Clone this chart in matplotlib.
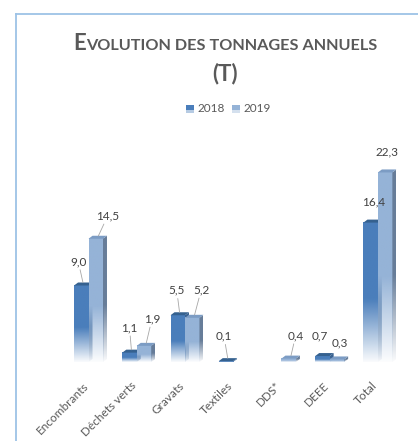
import numpy as np
import matplotlib
matplotlib.use("Agg")
import matplotlib.pyplot as plt
from matplotlib.colors import to_rgb
from matplotlib.patches import Polygon, Rectangle
from matplotlib.lines import Line2D
from matplotlib.transforms import ScaledTranslation

# ---- data -------------------------------------------------------------
categories = ["Encombrants", "Déchets verts", "Gravats", "Textiles", "DDS*", "DEEE", "Total"]
series_names = ["2018", "2019"]
values_2018 = [9.0, 1.1, 5.5, 0.1, np.nan, 0.7, 16.4]
values_2019 = [14.5, 1.9, 5.2, np.nan, 0.4, 0.3, 22.3]

# ---- styling ----------------------------------------------------------
FONT = "Lato"
TEXT_COLOR = "#404040"
GREY = "#595959"
front_colors = ["#4A7EBB", "#95B3D7"]
top_colors = ["#35618F", "#7C9CC4"]
side_colors = ["#3A6291", "#677D99"]

# label offsets in pixels (dx, dy) from the top centre of each bar
label_offsets = [
    [(-5, 17), (-2, 18), (-3, 18), (-4, 18), None, (-5, 13), (1, 14)],
    [(10, 16), (6, 20), (7, 21), None, (5, 16), (1, 10), (0, 14)],
]

W, H, DPI = 418, 441, 100
fig = plt.figure(figsize=(W / DPI, H / DPI), dpi=DPI)
fig.patch.set_facecolor("white")

# plot area (pixel geometry of the category axis)
left_px, right_px = 64.4, 402.0
base_px, top_px = 362.0, 150.0
px_per_unit = 8.5
ax = fig.add_axes([left_px / W, (H - base_px) / H,
                   (right_px - left_px) / W, (base_px - top_px) / H])
ymax = (base_px - top_px) / px_per_unit
n = len(categories)

bar_w = 0.30
dx = 4.0 / ((right_px - left_px) / n)   # depth offset in x (data units)
dy = 3.0 / px_per_unit                  # depth offset in y (data units)


def fade_image(rgb, steps=200, solid_from=0.45, floor=0.03):
    t = np.linspace(0, 1, steps)
    alpha = np.clip(floor + (1 - floor) * (t / solid_from), 0, 1)
    img = np.zeros((steps, 1, 4))
    img[..., :3] = rgb
    img[:, 0, 3] = alpha
    return img


series = [values_2018, values_2019]
offsets = [-bar_w / 2, bar_w / 2]
for s, vals in enumerate(series):
    x = np.arange(n) + offsets[s]
    bars = ax.bar(x, np.nan_to_num(vals), width=bar_w, color="none",
                  edgecolor="none", zorder=2 + s)
    for i, (b, v) in enumerate(zip(bars, vals)):
        if np.isnan(v):
            continue
        x0 = b.get_x()
        x1 = x0 + b.get_width()
        h = b.get_height()
        z = 2 + s * 3
        # front face with fade towards the floor
        ax.imshow(fade_image(to_rgb(front_colors[s])), origin="lower",
                  extent=[x0, x1, 0, h], aspect="auto", zorder=z,
                  interpolation="bilinear")
        # side face
        side = Polygon([(x1, 0), (x1, h), (x1 + dx, h + dy), (x1 + dx, dy)],
                       closed=True, facecolor="none", edgecolor="none")
        ax.add_patch(side)
        im = ax.imshow(fade_image(to_rgb(side_colors[s])), origin="lower",
                       extent=[x1, x1 + dx, 0, h + dy], aspect="auto",
                       zorder=z, interpolation="bilinear")
        im.set_clip_path(side)
        # top face
        ax.add_patch(Polygon([(x0, h), (x1, h), (x1 + dx, h + dy), (x0 + dx, h + dy)],
                             closed=True, facecolor=top_colors[s],
                             edgecolor="none", zorder=z + 1))
        # value label
        ox, oy = label_offsets[s][i]
        lbl = f"{v:.1f}".replace(".", ",")
        leader = oy >= 15
        ax.annotate(lbl, xy=((x0 + x1) / 2 + dx / 2, h + dy / 2),
                    xytext=(ox, oy), textcoords="offset pixels",
                    ha="center", va="bottom",
                    fontsize=8.5, family=FONT, color=TEXT_COLOR, zorder=10,
                    arrowprops=dict(arrowstyle="-", color="#A6A6A6", lw=0.6,
                                    shrinkA=0, shrinkB=1) if leader else None)

ax.set_xlim(-0.5, n - 0.5)
ax.set_ylim(0, ymax)
for sp in ax.spines.values():
    sp.set_visible(False)
ax.set_yticks([])
ax.set_xticks(range(n))
ax.set_xticklabels(categories, rotation=45, ha="right", va="top",
                   rotation_mode="anchor", fontsize=8.5, family=FONT, color=GREY)
ax.tick_params(axis="x", length=0, pad=13)
shift = ScaledTranslation(-6 / DPI, 0, fig.dpi_scale_trans)
for lab in ax.get_xticklabels():
    lab.set_transform(lab.get_transform() + shift)
ax.patch.set_alpha(0)

# ---- chart frame ------------------------------------------------------
frame_c = "#9DC3E6"
fig.add_artist(Line2D([16 / W, 16 / W], [1 - 14 / H, 0], color=frame_c, lw=1.3))
fig.add_artist(Line2D([16 / W, 1], [1 - 14 / H, 1 - 14 / H], color=frame_c, lw=1.3))

# ---- title in small capitals -----------------------------------------
renderer = fig.canvas.get_renderer()


def caps_line(pieces, y_px, cx_px):
    texts = []
    for txt, size in pieces:
        t = fig.text(0, 1 - y_px / H, txt, fontsize=size, family=FONT,
                     weight="bold", color=GREY, ha="left", va="baseline")
        texts.append(t)
    widths = [t.get_window_extent(renderer).width for t in texts]
    x = cx_px - sum(widths) / 2
    for t, w in zip(texts, widths):
        t.set_x(x / W)
        x += w


caps_line([("E", 16), ("VOLUTION DES TONNAGES ANNUELS", 11.7)], 49.5, 225)
caps_line([("(T)", 16)], 80, 225)

# ---- legend -----------------------------------------------------------
leg_y = 109
for s, (name, sq_x) in enumerate(zip(series_names, [186, 232])):
    fig.add_artist(Rectangle((sq_x / W, 1 - (leg_y + 4) / H), 8 / W, 8 / H,
                             facecolor=front_colors[s], edgecolor="none"))
    fig.add_artist(Rectangle((sq_x / W, 1 - (leg_y + 4) / H), 8 / W, 2.5 / H,
                             facecolor="white", alpha=0.6, edgecolor="none"))
    fig.text((sq_x + 11) / W, 1 - leg_y / H, name, fontsize=8.5, family=FONT,
             color=GREY, ha="left", va="center")

fig.savefig("out.png", dpi=DPI)
